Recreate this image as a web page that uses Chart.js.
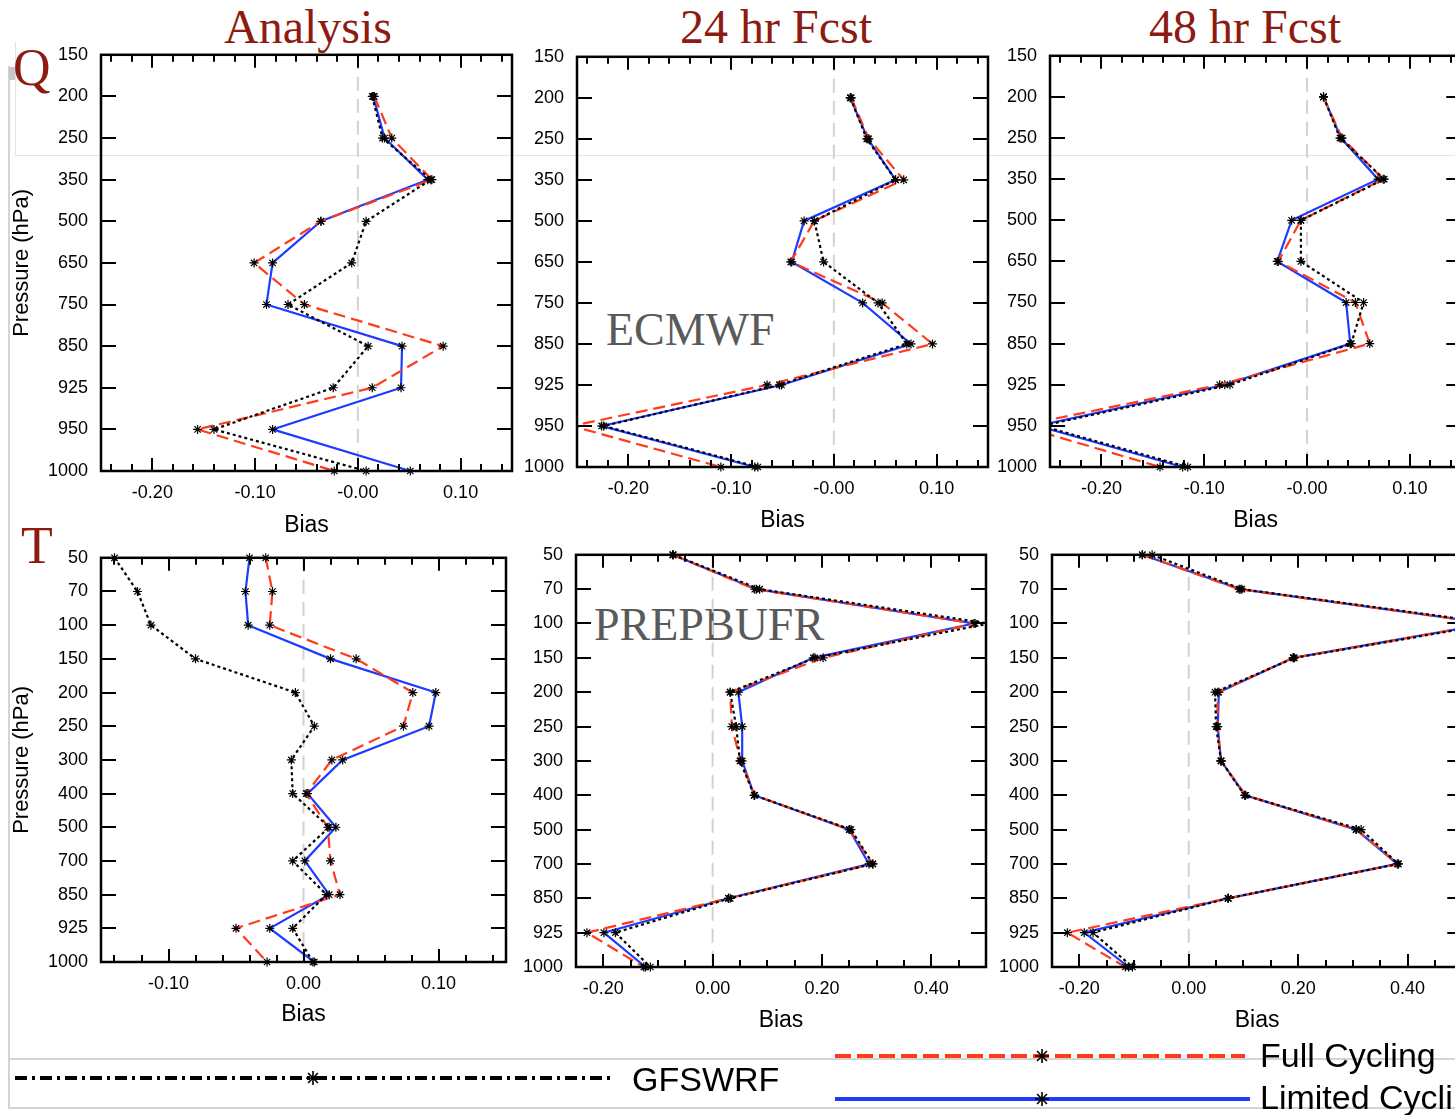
<!DOCTYPE html>
<html>
<head>
<meta charset="utf-8">
<script src="https://cdn.jsdelivr.net/npm/chart.js@4.4.0/dist/chart.umd.min.js"></script>
<style>
  html, body { margin: 0; padding: 0; background: #fff; overflow: hidden; }
  #page { position: relative; width: 1455px; height: 1115px; overflow: hidden; background: #fff; }
  #page canvas { position: absolute; }
  .txt { position: absolute; white-space: nowrap; line-height: 1; transform: translateY(-50%); }
  .ttl { font-family: "Liberation Serif", "Times New Roman", serif; font-size: 48px; color: #8e1b12; transform: translate(-50%, -50%); }
  .big { font-family: "Liberation Serif", "Times New Roman", serif; font-size: 52px; color: #8e1b12; }
  .src { font-family: "Liberation Serif", "Times New Roman", serif; font-size: 46px; color: #5a5a5a; }
  .leg { font-family: "Liberation Sans", Arial, sans-serif; font-size: 34px; color: #000; }
  .rule { position: absolute; background: #d4d4d4; }
</style>
</head>
<body>
<div id="page">
  <div class="rule" style="left:8px;top:66px;width:2px;height:1042px;"></div>
  <div class="rule" style="left:9px;top:67px;width:7px;height:13px;background:#c8c8c8;"></div>
  <div class="rule" style="left:15px;top:42px;width:1px;height:113px;background:#e4e4e4;"></div>
  <div class="rule" style="left:15px;top:155px;width:1440px;height:1px;background:#e4e4e4;"></div>
  <div class="rule" style="left:8px;top:1058px;width:1447px;height:2px;"></div>
  <div class="rule" style="left:8px;top:1107px;width:1447px;height:2px;"></div>

  <div class="txt ttl" style="left:308px;top:27px;">Analysis</div>
  <div class="txt ttl" style="left:776px;top:27px;">24 hr Fcst</div>
  <div class="txt ttl" style="left:1245px;top:27px;">48 hr Fcst</div>
  <div class="txt big" style="left:13px;top:68px;">Q</div>
  <div class="txt big" style="left:21px;top:546px;">T</div>
  <div class="txt src" style="left:606px;top:330px;">ECMWF</div>
  <div class="txt src" style="left:594px;top:625px;">PREPBUFR</div>

  <canvas id="legendCanvas" width="1300" height="70" style="left:0;top:1040px;width:1300px;height:70px;"></canvas>
  <div class="txt leg" style="left:632px;top:1079px;">GFSWRF</div>
  <div class="txt leg" style="left:1260px;top:1055px;">Full Cycling</div>
  <div class="txt leg" style="left:1260px;top:1097px;">Limited Cycling</div>
</div>

<script>
// ---------------- pressure levels (y categories) ----------------
const levelsQ = ['150', '200', '250', '350', '500', '650', '750', '850', '925', '950', '1000'];
const levelsT = ['50', '70', '100', '150', '200', '250', '300', '400', '500', '700', '850', '925', '1000'];

// ---------------- x tick labels ----------------
const xTicksQ = [-0.2, -0.1, 0, 0.1];
const xLabelsQ = ['-0.20', '-0.10', '-0.00', '0.10'];
const xTicksTa = [-0.1, 0, 0.1];
const xLabelsTa = ['-0.10', '0.00', '0.10'];
const xTicksTf = [-0.2, 0, 0.2, 0.4];
const xLabelsTf = ['-0.20', '0.00', '0.20', '0.40'];

// ---------------- Q bias ----------------
const qAnaGfs  = [null, 0.014, 0.024, 0.071, 0.008, -0.006, -0.068, 0.010, -0.024, -0.140, 0.008];
const qAnaFull = [null, 0.016, 0.033, 0.072, -0.036, -0.101, -0.052, 0.083, 0.014, -0.156, -0.023];
const qAnaLim  = [null, 0.015, 0.026, 0.068, -0.036, -0.083, -0.089, 0.043, 0.042, -0.083, 0.051];

const q24Gfs  = [null, 0.016, 0.032, 0.060, -0.019, -0.010, 0.043, 0.071, -0.053, -0.224, -0.074];
const q24Full = [null, 0.017, 0.034, 0.068, -0.019, -0.042, 0.047, 0.096, -0.065, -0.255, -0.110];
const q24Lim  = [null, 0.016, 0.033, 0.060, -0.029, -0.041, 0.028, 0.075, -0.051, -0.226, -0.077];

const q48Gfs  = [null, 0.016, 0.032, 0.075, -0.006, -0.006, 0.055, 0.043, -0.075, -0.258, -0.116];
const q48Full = [null, 0.016, 0.034, 0.074, -0.006, -0.028, 0.047, 0.061, -0.085, -0.279, -0.143];
const q48Lim  = [null, 0.016, 0.033, 0.069, -0.015, -0.029, 0.038, 0.042, -0.080, -0.262, -0.121];

// ---------------- T bias ----------------
const tAnaGfs  = [-0.140, -0.123, -0.113, -0.080, -0.006, 0.008, -0.009, -0.008, 0.019, -0.008, 0.017, -0.008, 0.007];
const tAnaFull = [-0.028, -0.023, -0.025, 0.039, 0.081, 0.074, 0.021, 0.002, 0.018, 0.020, 0.027, -0.050, -0.027];
const tAnaLim  = [-0.040, -0.043, -0.041, 0.020, 0.098, 0.093, 0.029, 0.003, 0.024, 0.001, 0.019, -0.025, 0.008];

const t24Gfs  = [-0.072, 0.086, 0.505, 0.187, 0.032, 0.043, 0.050, 0.076, 0.253, 0.293, 0.032, -0.178, -0.114];
const t24Full = [-0.073, 0.077, 0.480, 0.202, 0.032, 0.035, 0.051, 0.077, 0.250, 0.293, 0.029, -0.230, -0.126];
const t24Lim  = [-0.073, 0.080, 0.478, 0.184, 0.047, 0.054, 0.054, 0.076, 0.250, 0.286, 0.029, -0.199, -0.123];

const t48Gfs  = [-0.067, 0.097, 0.560, 0.193, 0.048, 0.050, 0.059, 0.102, 0.315, 0.383, 0.072, -0.175, -0.103];
const t48Full = [-0.085, 0.092, 0.550, 0.191, 0.053, 0.052, 0.059, 0.104, 0.306, 0.383, 0.072, -0.222, -0.116];
const t48Lim  = [-0.085, 0.094, 0.550, 0.191, 0.055, 0.053, 0.059, 0.103, 0.306, 0.381, 0.072, -0.191, -0.110];

const RED = '#ff3b1c';
const BLUE = '#1e3cff';
const SANS = '"Liberation Sans", Arial, sans-serif';

// --------- inward ticks, frame and dashed zero line ---------
const framePlugin = {
  id: 'frame',
  beforeDatasetsDraw(chart) {
    const {ctx, chartArea: a, scales: {x}} = chart;
    const px = x.getPixelForValue(0);
    ctx.save();
    ctx.strokeStyle = '#d2d2d2';
    ctx.lineWidth = 2;
    ctx.setLineDash([14, 8]);
    ctx.beginPath();
    ctx.moveTo(px, a.top);
    ctx.lineTo(px, a.bottom);
    ctx.stroke();
    ctx.restore();
  },
  afterDraw(chart, args, opts) {
    const {ctx, chartArea: a, scales: {x, y}} = chart;
    ctx.save();
    ctx.strokeStyle = '#000';
    ctx.setLineDash([]);
    ctx.lineWidth = 2;
    ctx.beginPath();
    // major x ticks
    x.ticks.forEach(t => {
      const p = Math.round(x.getPixelForValue(t.value));
      ctx.moveTo(p, a.bottom); ctx.lineTo(p, a.bottom - 13);
      ctx.moveTo(p, a.top); ctx.lineTo(p, a.top + 13);
    });
    // minor x ticks
    const step = opts.minor;
    for (let k = Math.ceil(x.min / step - 1e-6); k * step <= x.max + 1e-9; k++) {
      const v = k * step;
      if (x.ticks.some(t => Math.abs(t.value - v) < 1e-6)) continue;
      const p = Math.round(x.getPixelForValue(v));
      ctx.moveTo(p, a.bottom); ctx.lineTo(p, a.bottom - 7);
      ctx.moveTo(p, a.top); ctx.lineTo(p, a.top + 7);
    }
    // y ticks on both sides
    y.ticks.forEach((t, i) => {
      const p = Math.round(y.getPixelForTick(i));
      ctx.moveTo(a.left, p); ctx.lineTo(a.left + 15, p);
      ctx.moveTo(a.right, p); ctx.lineTo(a.right - 15, p);
    });
    ctx.stroke();
    ctx.lineWidth = 2.5;
    ctx.strokeRect(a.left, a.top, a.right - a.left, a.bottom - a.top);
    ctx.restore();
  }
};

function series(label, values, color, dash) {
  return {
    label: label,
    data: values,
    borderColor: color,
    borderWidth: 2.2,
    borderDash: dash,
    pointStyle: 'star',
    pointRadius: 4.5,
    pointBorderColor: '#000',
    pointBorderWidth: 1.2,
    pointBackgroundColor: '#000',
    fill: false,
    tension: 0,
    clip: {left: 0, right: 0, top: 8, bottom: 8}
  };
}

function makePanel(g, levels, xs, xLabels, gfs, full, lim) {
  const page = document.getElementById('page');
  const cv = document.createElement('canvas');
  const w = g.yw + (g.R - g.L) + g.pr;
  const h = g.pt + (g.B - g.T) + g.xh;
  cv.width = w;
  cv.height = h;
  cv.style.left = (g.L - g.yw) + 'px';
  cv.style.top = (g.T - g.pt) + 'px';
  cv.style.width = w + 'px';
  cv.style.height = h + 'px';
  page.appendChild(cv);

  const chart = new Chart(cv, {
    type: 'line',
    data: {
      labels: levels,
      datasets: [
        series('GFSWRF', gfs, '#000', [3, 3]),
        series('Full Cycling', full, RED, [12, 6]),
        series('Limited Cycling', lim, BLUE, [])
      ]
    },
    options: {
      indexAxis: 'y',
      responsive: false,
      maintainAspectRatio: false,
      animation: false,
      devicePixelRatio: 1,
      layout: {padding: {top: g.pt, right: g.pr, left: 0, bottom: 0}},
      plugins: {
        legend: {display: false},
        tooltip: {enabled: false},
        frame: {minor: g.minor}
      },
      scales: {
        x: {
          type: 'linear',
          position: 'bottom',
          min: g.min,
          max: g.max,
          bounds: 'data',
          afterFit: s => { s.height = g.xh; },
          afterBuildTicks: s => { s.ticks = xs.map(v => ({value: v})); },
          ticks: {
            callback: (v, i) => xLabels[i],
            autoSkip: false,
            maxRotation: 0,
            padding: 11,
            color: '#000',
            font: {family: SANS, size: 18}
          },
          grid: {display: false, drawTicks: false},
          border: {display: false},
          title: {
            display: true,
            text: 'Bias',
            color: '#000',
            font: {family: SANS, size: 23},
            padding: {top: 0, bottom: g.pb}
          }
        },
        y: {
          type: 'category',
          position: 'left',
          afterFit: s => { s.width = g.yw; },
          ticks: {
            autoSkip: false,
            padding: 13,
            color: '#000',
            font: {family: SANS, size: 18}
          },
          grid: {display: false, drawTicks: false},
          border: {display: false},
          title: {
            display: g.ytitle,
            text: 'Pressure (hPa)',
            color: '#000',
            font: {family: SANS, size: 22},
            padding: {top: 9, bottom: 0}
          }
        }
      }
    },
    plugins: [framePlugin]
  });

  // make the plot area land exactly on the panel box
  const a = chart.chartArea;
  const needH = Math.round(h + (g.B - g.T) - (a.bottom - a.top));
  const needW = Math.round(w + (g.R - g.L) - (a.right - a.left));
  if (needH !== h || needW !== w) chart.resize(needW, needH);
  const b = chart.chartArea;
  cv.style.left = (g.L - b.left) + 'px';
  cv.style.top = (g.T - b.top) + 'px';
}

// panel geometry in page pixels
makePanel({L: 101, R: 512, T: 55, B: 471, yw: 101, pt: 15, pr: 8, xh: 72, pb: 4, min: -0.25, max: 0.15, minor: 0.02, ytitle: true},
  levelsQ, xTicksQ, xLabelsQ, qAnaGfs, qAnaFull, qAnaLim);
makePanel({L: 577, R: 988, T: 57, B: 467, yw: 65, pt: 15, pr: 8, xh: 70, pb: 3, min: -0.25, max: 0.15, minor: 0.02, ytitle: false},
  levelsQ, xTicksQ, xLabelsQ, q24Gfs, q24Full, q24Lim);
makePanel({L: 1050, R: 1461, T: 56, B: 467, yw: 65, pt: 15, pr: 4, xh: 70, pb: 3, min: -0.25, max: 0.15, minor: 0.02, ytitle: false},
  levelsQ, xTicksQ, xLabelsQ, q48Gfs, q48Full, q48Lim);
makePanel({L: 101, R: 506, T: 558, B: 962, yw: 101, pt: 14, pr: 8, xh: 70, pb: 4, min: -0.15, max: 0.15, minor: 0.02, ytitle: true},
  levelsT, xTicksTa, xLabelsTa, tAnaGfs, tAnaFull, tAnaLim);
makePanel({L: 576, R: 986, T: 555, B: 967, yw: 66, pt: 15, pr: 8, xh: 70, pb: 3, min: -0.25, max: 0.5, minor: 0.05, ytitle: false},
  levelsT, xTicksTf, xLabelsTf, t24Gfs, t24Full, t24Lim);
makePanel({L: 1052, R: 1462, T: 555, B: 967, yw: 66, pt: 15, pr: 4, xh: 70, pb: 3, min: -0.25, max: 0.5, minor: 0.05, ytitle: false},
  levelsT, xTicksTf, xLabelsTf, t48Gfs, t48Full, t48Lim);

// ---------------- legend strokes ----------------
function star(ctx, x, y, r) {
  ctx.save();
  ctx.setLineDash([]);
  ctx.strokeStyle = '#000';
  ctx.lineWidth = 1.6;
  ctx.beginPath();
  ctx.moveTo(x, y - r); ctx.lineTo(x, y + r);
  ctx.moveTo(x - r, y); ctx.lineTo(x + r, y);
  const d = r * 0.707;
  ctx.moveTo(x - d, y - d); ctx.lineTo(x + d, y + d);
  ctx.moveTo(x - d, y + d); ctx.lineTo(x + d, y - d);
  ctx.stroke();
  ctx.restore();
}
(function drawLegend() {
  const ctx = document.getElementById('legendCanvas').getContext('2d');
  const oy = 1040;
  ctx.lineWidth = 4;
  ctx.strokeStyle = '#000';
  ctx.setLineDash([12, 5, 3, 5]);
  ctx.beginPath(); ctx.moveTo(15, 1078 - oy); ctx.lineTo(615, 1078 - oy); ctx.stroke();
  star(ctx, 313, 1078 - oy, 7);
  ctx.strokeStyle = RED;
  ctx.setLineDash([16, 6]);
  ctx.beginPath(); ctx.moveTo(835, 1056 - oy); ctx.lineTo(1245, 1056 - oy); ctx.stroke();
  star(ctx, 1042, 1056 - oy, 7);
  ctx.strokeStyle = BLUE;
  ctx.setLineDash([]);
  ctx.beginPath(); ctx.moveTo(835, 1099 - oy); ctx.lineTo(1250, 1099 - oy); ctx.stroke();
  star(ctx, 1042, 1099 - oy, 7);
})();
</script>
</body>
</html>
